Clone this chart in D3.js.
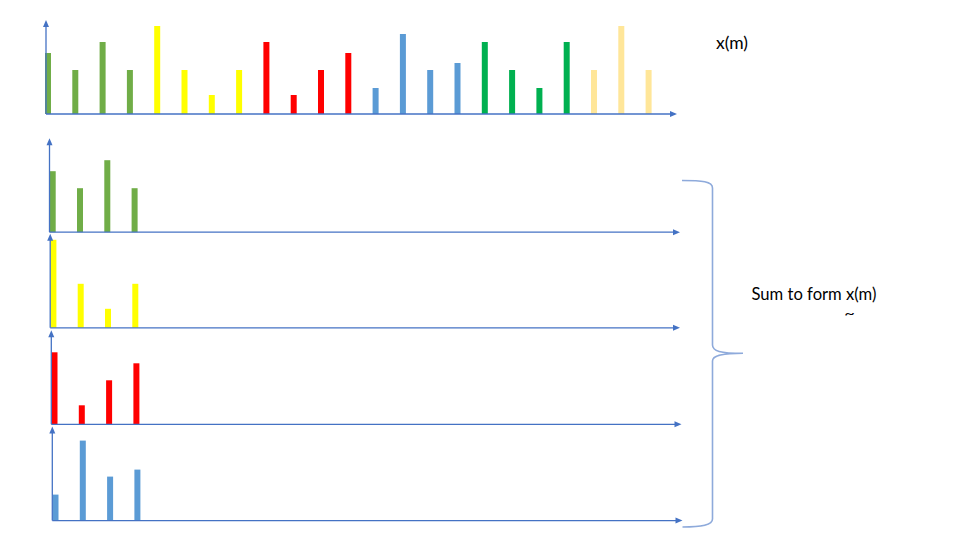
<!DOCTYPE html>
<html>
<head>
<meta charset="utf-8">
<script src="https://cdn.jsdelivr.net/npm/d3@7"></script>
<style>
  html, body { margin: 0; padding: 0; background: #ffffff; }
  svg { display: block; }
</style>
</head>
<body>
<svg id="chart" width="960" height="540"></svg>
<script>
// ---------------- data ----------------
const greenVals      = [61, 44, 72, 44];
const yellowVals     = [88, 44, 19, 44];
const redVals        = [72, 19, 44, 61];
const blueVals       = [26, 80, 44, 51];
const darkGreenVals  = [72, 44, 26, 72];
const paleYellowVals = [44, 88, 44];

const segmentNames  = ["green", "yellow", "red", "blue", "darkGreen", "paleYellow"];
const segmentValues = [greenVals, yellowVals, redVals, blueVals, darkGreenVals, paleYellowVals];
const panelSegments = ["green", "yellow", "red", "blue"];   // shown separately below

const topLabel = "x(m)";
const sumLabel = "Sum to form x(m)";
const tildeLabel = "~";

// ---------------- styles ----------------
const colors = {
  green: "#70ad47", yellow: "#ffff00", red: "#ff0000",
  blue: "#5b9bd5", darkGreen: "#00b050", paleYellow: "#ffe699"
};
const axisColor = "#4472c4";
const braceColor = "#8eaadb";
const fontFamily = "Lato, 'Open Sans', sans-serif";

const svg = d3.select("#chart");

const yMax = 94;          // axis extent in value units
const pitch = 27.3;       // spacing between stems
const barW = 6;

function arrowHead(g, x, y, dir) {
  const L = 7, W = 3;
  const p = dir === "up"
    ? [[x, y], [x - W, y + L], [x + W, y + L]]
    : [[x, y], [x - L, y - W], [x - L, y + W]];
  g.append("path").attr("d", d3.line()(p) + "Z").attr("fill", axisColor);
}

function drawPanel(cfg) {
  const g = svg.append("g");
  const x = d3.scaleLinear().domain([0, 1]).range([cfg.firstCenter, cfg.firstCenter + pitch]);
  const y = d3.scaleLinear().domain([0, yMax]).range([cfg.baseline, cfg.baseline - yMax]);

  g.selectAll("rect.bar").data(cfg.bars).join("rect")
    .attr("class", "bar")
    .attr("x", (d, i) => x(i) - barW / 2)
    .attr("width", barW)
    .attr("y", d => y(d.v))
    .attr("height", d => y(0) - y(d.v))
    .attr("fill", d => colors[d.c]);

  // y axis
  g.append("line").attr("x1", cfg.axisX).attr("x2", cfg.axisX)
    .attr("y1", y(0)).attr("y2", y(yMax) + 5)
    .attr("stroke", axisColor).attr("stroke-width", 1.3);
  arrowHead(g, cfg.axisX, y(yMax), "up");
  // x axis
  g.append("line").attr("x1", cfg.axisX).attr("x2", cfg.xEnd - 5)
    .attr("y1", y(0)).attr("y2", y(0))
    .attr("stroke", axisColor).attr("stroke-width", 1.3);
  arrowHead(g, cfg.xEnd, y(0), "right");
}

// top (combined) chart
const topBars = [];
segmentNames.forEach((name, si) => segmentValues[si].forEach(v => topBars.push({ c: name, v })));
drawPanel({ axisX: 46, firstCenter: 48, baseline: 114, xEnd: 677, bars: topBars });

// separate panels
const panelLayout = [
  { axisX: 49.5, baseline: 232.2, xEnd: 680 },
  { axisX: 50.2, baseline: 327.8, xEnd: 680 },
  { axisX: 51.3, baseline: 424.3, xEnd: 681.5 },
  { axisX: 52.3, baseline: 520.6, xEnd: 682.5 }
];
panelSegments.forEach((name, k) => {
  const vals = segmentValues[segmentNames.indexOf(name)];
  const L = panelLayout[k];
  drawPanel({ axisX: L.axisX, firstCenter: L.axisX + 3.2, baseline: L.baseline, xEnd: L.xEnd,
              bars: vals.map(v => ({ c: name, v })) });
});

// brace
const brace = d3.path();
brace.moveTo(682, 180.5);
brace.bezierCurveTo(702, 180.5, 712.5, 181.5, 712.5, 188);
brace.lineTo(712.5, 345);
brace.bezierCurveTo(712.5, 351, 720, 353.3, 743, 353.3);
brace.moveTo(743, 353.3);
brace.bezierCurveTo(720, 353.3, 712.5, 356, 712.5, 361);
brace.lineTo(712.5, 519);
brace.bezierCurveTo(712.5, 525, 702, 527, 682.5, 527);
svg.append("path").attr("d", brace.toString())
  .attr("fill", "none").attr("stroke", braceColor).attr("stroke-width", 1.6);

// texts
function fitText(t, w) {
  let fs = 16;
  t.attr("font-size", fs);
  const len = t.node().getComputedTextLength();
  fs = fs * w / len;
  t.attr("font-size", fs);
  return fs;
}
const tTop = svg.append("text").attr("x", 716).attr("y", 48.5)
  .attr("font-family", fontFamily).attr("fill", "#000").text(topLabel);
fitText(tTop, 32);

const tSum = svg.append("text").attr("x", 751.5).attr("y", 300)
  .attr("font-family", fontFamily).attr("fill", "#000").text(sumLabel);
fitText(tSum, 125);

svg.append("text")
  .attr("transform", "translate(849.5,317.5) scale(1.4,1)")
  .attr("text-anchor", "middle")
  .attr("font-family", fontFamily).attr("font-size", 13).attr("fill", "#000").text(tildeLabel);
</script>
</body>
</html>
